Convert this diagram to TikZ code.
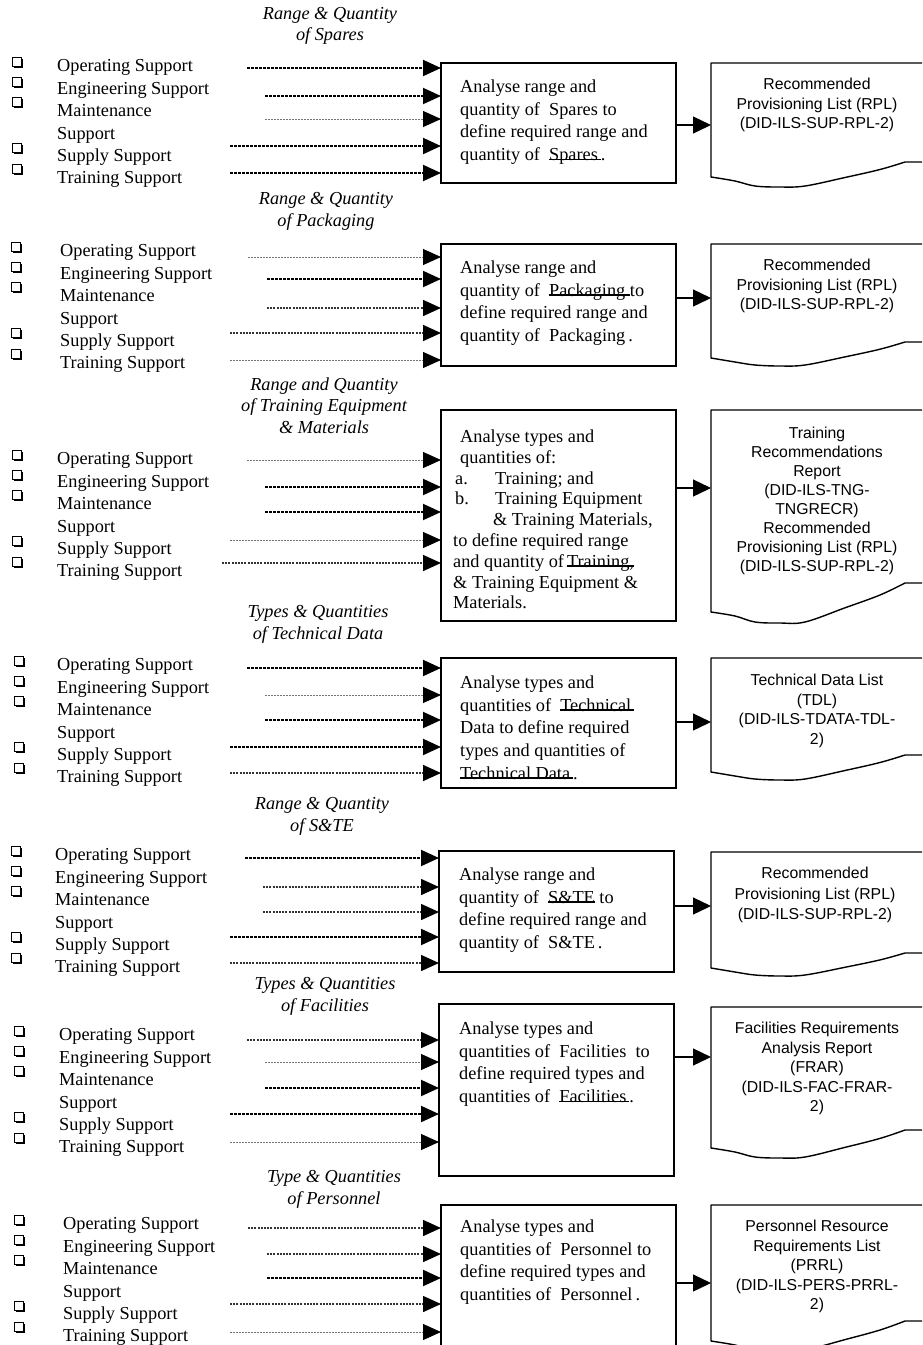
\documentclass[tikz,border=0pt]{standalone}
\usepackage{fontspec}
\setmainfont{Liberation Serif}
\newfontfamily\docfont{Liberation Sans}
\usetikzlibrary{arrows.meta,shadows}

% thick line through the lower part of a word
\newsavebox\lowbox
\newcommand\lowln[1]{\sbox\lowbox{#1}\rlap{\rule[0.2pt]{\wd\lowbox}{1.7pt}}\usebox\lowbox}

% support list with check boxes: name, box x, text x, first line y
\newcommand\supportlist[4]{%
  \foreach \d [count=\k] in {-5,15,35,81,102}
    \node[chkbox] (#1ck\k) at (#2,{#4+(\d)}) {};
  \node[listtext] (#1) at (#3,#4-7.5) {Operating Support\\Engineering Support\\Maintenance\\Support\\Supply Support\\Training Support};
}

% output sheet: name, top, left bottom, dip, right end
\newcommand\docsheet[5]{%
  \node[docframe, minimum height={#3-#2}] (#1) at (711,#2) {};
  \draw[docline] (#1.south west) -- (#1.north west) -- (936,#2) -- (936,#5)
    -- plot[smooth, tension=0.6] coordinates {(905,#5) (880,{#5+0.3*(#4-#5)}) (845,{#5+0.62*(#4-#5)}) (805,{#4-1}) (780,#4) (755,{#4-1}) (735,{#3+4}) (711,#3)} -- cycle;
}

\begin{document}
\begin{tikzpicture}[x=1pt,y=-1pt,
  every node/.style={inner sep=0pt},
  listtext/.style={anchor=north west, align=left, font={\fontsize{18.3}{22.4}\selectfont}},
  chkbox/.style={draw, fill=white, line width=1pt, minimum size=8.5pt, drop shadow={shadow xshift=1.7pt, shadow yshift=-1.7pt, opacity=1, fill=black}},
  headtext/.style={anchor=north, align=center, font={\itshape\fontsize{18.3}{21.5}\selectfont}},
  procbox/.style={draw, line width=1.4pt, anchor=north west, outer sep=0pt, minimum width=235pt},
  proctext/.style={anchor=north west, align=left, font={\fontsize{18.3}{22.7}\selectfont}},
  docframe/.style={anchor=north west, outer sep=0pt, minimum width=225pt},
  docline/.style={line width=1.4pt, line join=round},
  doctext/.style={anchor=north, align=center, font={\docfont\fontsize{15.8}{19.4}\selectfont}},
  heavyfeed/.style={line width=2pt, dash pattern=on 3pt off 1pt, -{Triangle[length=18pt,width=16pt]}},
  midfeed/.style={line width=1.5pt, black!80, dash pattern=on 2pt off 1.2pt, -{Triangle[length=18pt,width=16pt,black]}},
  lightfeed/.style={line width=1pt, black!55, dash pattern=on 1.5pt off 1.5pt, -{Triangle[length=18pt,width=16pt,black]}},
  outarrow/.style={line width=1.3pt, -{Triangle[length=18pt,width=17pt]}}]
\useasboundingbox (0,0) rectangle (922,1345);
\clip (0,0) rectangle (922,1345);

% spares
\node[headtext] (head1) at (330,7) {Range \& Quantity\\of Spares};
\supportlist{list1}{17}{57}{67}
\node[procbox, minimum height=120pt] (proc1) at (441,63) {};
\node[proctext] (proc1txt) at (460,79.5) {Analyse range and\\quantity of~ Spares to\\define required range and\\quantity of~ \lowln{Spares\,}.};
\foreach \y/\x/\s [count=\k] in {68/247/heavyfeed,96/265/heavyfeed,119/265/lightfeed,146/230/heavyfeed,173/230/heavyfeed}{
  \coordinate (in1\k) at (\x,\y);
  \draw[\s] (in1\k) -- (in1\k -| proc1.west);}
\docsheet{doc1}{63}{177}{187}{162}
\node[doctext] (doc1txt) at (817,78.3) {Recommended\\Provisioning List (RPL)\\(DID-ILS-SUP-RPL-2)};
\draw[outarrow] (proc1.east |- 0,125) -- (doc1.west |- 0,125);

% packaging
\node[headtext] (head2) at (326,192.5) {Range \& Quantity\\of Packaging};
\supportlist{list2}{16}{60}{252}
\node[procbox, minimum height=122pt] (proc2) at (441,244) {};
\node[proctext] (proc2txt) at (460,260.5) {Analyse range and\\quantity of~ \lowln{Packaging\ }to\\define required range and\\quantity of~ Packaging\,.};
\foreach \y/\x/\s [count=\k] in {257/248/lightfeed,279/267/heavyfeed,308/267/midfeed,333/230/midfeed,360/230/lightfeed}{
  \coordinate (in2\k) at (\x,\y);
  \draw[\s] (in2\k) -- (in2\k -| proc2.west);}
\docsheet{doc2}{244}{358}{366}{342}
\node[doctext] (doc2txt) at (817,259.3) {Recommended\\Provisioning List (RPL)\\(DID-ILS-SUP-RPL-2)};
\draw[outarrow] (proc2.east |- 0,298) -- (doc2.west |- 0,298);

% training equipment
\node[headtext] (head3) at (324,377.5) {Range and Quantity\\of Training Equipment\\\& Materials};
\supportlist{list3}{17}{57}{460}
\node[procbox, minimum height=211pt] (proc3) at (441,410) {};
\node[proctext, font={\fontsize{18.3}{20.8}\selectfont}] (proc3txt) at (453,429.5) {\hspace*{7pt}Analyse types and\\\hspace*{7pt}quantities of:\\\hspace*{2pt}\makebox[40pt][l]{a.}Training; and\\\hspace*{2pt}\makebox[40pt][l]{b.}Training Equipment\\\hspace*{40pt}\& Training Materials,\\to define required range\\and quantity of\,\lowln{Training,}\\\& Training Equipment \&\\Materials.};
\foreach \y/\x/\s [count=\k] in {460/247/lightfeed,487/265/heavyfeed,512/265/heavyfeed,540/230/lightfeed,563/222/midfeed}{
  \coordinate (in3\k) at (\x,\y);
  \draw[\s] (in3\k) -- (in3\k -| proc3.west);}
\docsheet{doc3}{410}{612}{623}{583}
\node[doctext, font={\docfont\fontsize{15.8}{18.9}\selectfont}] (doc3txt) at (817,427.3) {Training\\Recommendations\\Report\\(DID-ILS-TNG-\\TNGRECR)\\Recommended\\Provisioning List (RPL)\\(DID-ILS-SUP-RPL-2)};
\draw[outarrow] (proc3.east |- 0,488) -- (doc3.west |- 0,488);

% technical data
\node[headtext] (head4) at (318,605.5) {Types \& Quantities\\of Technical Data};
\supportlist{list4}{19}{57}{666}
\node[procbox, minimum height=130pt] (proc4) at (441,658) {};
\node[proctext] (proc4txt) at (460,675.5) {Analyse types and\\quantities of~ \lowln{Technical\,}\\Data to define required\\types and quantities of\\\lowln{Technical Data\,}.};
\foreach \y/\x/\s [count=\k] in {668/247/heavyfeed,695/265/lightfeed,720/265/heavyfeed,747/230/heavyfeed,773/230/midfeed}{
  \coordinate (in4\k) at (\x,\y);
  \draw[\s] (in4\k) -- (in4\k -| proc4.west);}
\docsheet{doc4}{658}{772}{780}{755}
\node[doctext] (doc4txt) at (817,674.3) {Technical Data List\\(TDL)\\(DID-ILS-TDATA-TDL-\\2)};
\draw[outarrow] (proc4.east |- 0,722) -- (doc4.west |- 0,722);

% S&TE
\node[headtext] (head5) at (322,797.5) {Range \& Quantity\\of S\&TE};
\supportlist{list5}{16}{55}{856}
\node[procbox, minimum height=121pt] (proc5) at (439,851) {};
\node[proctext] (proc5txt) at (459,867.5) {Analyse range and\\quantity of~ \lowln{S\&TE} to\\define required range and\\quantity of~ S\&TE\,.};
\foreach \y/\x/\s [count=\k] in {858/245/heavyfeed,887/263/midfeed,912/263/midfeed,937/230/heavyfeed,963/230/midfeed}{
  \coordinate (in5\k) at (\x,\y);
  \draw[\s] (in5\k) -- (in5\k -| proc5.west);}
\docsheet{doc5}{852}{968}{976}{953}
\node[doctext, font={\docfont\fontsize{15.8}{20.5}\selectfont}] (doc5txt) at (815,867.3) {Recommended\\Provisioning List (RPL)\\(DID-ILS-SUP-RPL-2)};
\draw[outarrow] (proc5.east |- 0,906) -- (doc5.west |- 0,906);

% facilities
\node[headtext] (head6) at (325,977.5) {Types \& Quantities\\of Facilities};
\supportlist{list6}{19}{59}{1036}
\node[procbox, minimum height=172pt] (proc6) at (439,1004) {};
\node[proctext] (proc6txt) at (459,1021.5) {Analyse types and\\quantities of~ Facilities~ to\\define required types and\\quantities of~ \lowln{Facilities\,}.};
\foreach \y/\x/\s [count=\k] in {1040/247/midfeed,1062/265/lightfeed,1088/265/heavyfeed,1114/230/heavyfeed,1142/230/lightfeed}{
  \coordinate (in6\k) at (\x,\y);
  \draw[\s] (in6\k) -- (in6\k -| proc6.west);}
\docsheet{doc6}{1007}{1148}{1158}{1130}
\node[doctext] (doc6txt) at (817,1022.3) {Facilities Requirements\\Analysis Report\\(FRAR)\\(DID-ILS-FAC-FRAR-\\2)};
\draw[outarrow] (proc6.east |- 0,1057) -- (doc6.west |- 0,1057);

% personnel
\node[headtext] (head7) at (334,1170.5) {Type \& Quantities\\of Personnel};
\supportlist{list7}{19}{63}{1225}
\node[procbox, minimum height=160pt] (proc7) at (441,1205) {};
\node[proctext] (proc7txt) at (460,1219.5) {Analyse types and\\quantities of~ Personnel to\\define required types and\\quantities of~ Personnel\,.};
\foreach \y/\x/\s [count=\k] in {1228/248/midfeed,1254/267/midfeed,1278/267/heavyfeed,1304/230/midfeed,1332/230/lightfeed}{
  \coordinate (in7\k) at (\x,\y);
  \draw[\s] (in7\k) -- (in7\k -| proc7.west);}
\docsheet{doc7}{1205}{1341}{1351}{1321}
\node[doctext] (doc7txt) at (817,1220.3) {Personnel Resource\\Requirements List\\(PRRL)\\(DID-ILS-PERS-PRRL-\\2)};
\draw[outarrow] (proc7.east |- 0,1283) -- (doc7.west |- 0,1283);
\end{tikzpicture}
\end{document}
